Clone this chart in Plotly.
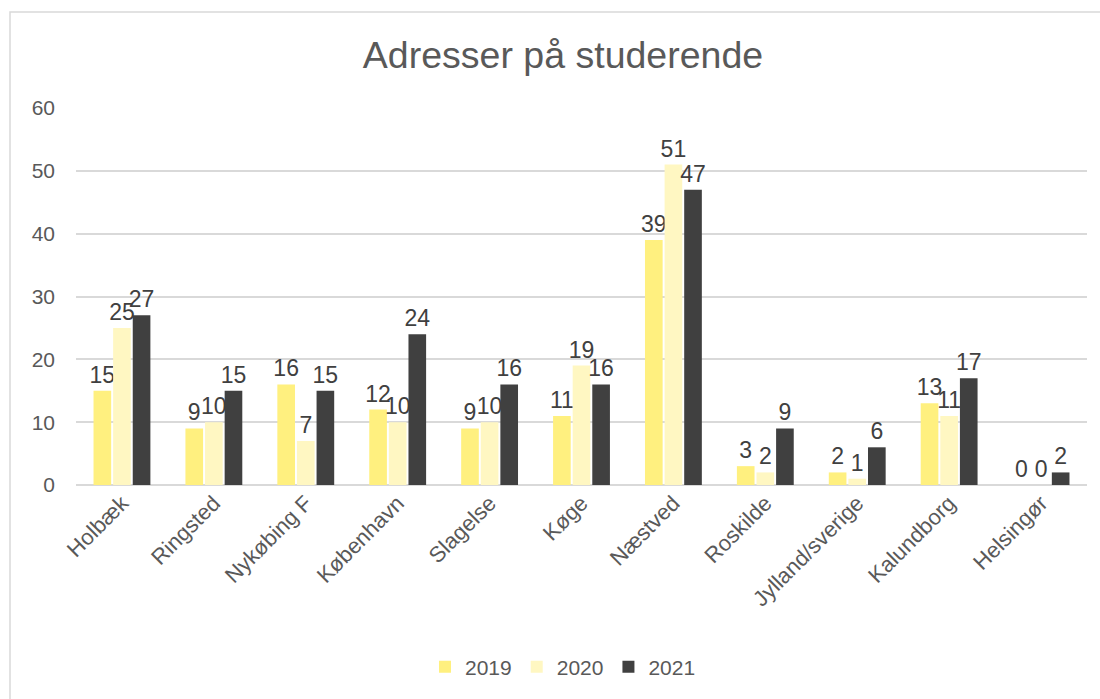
import plotly.graph_objects as go

categories = ["Holbæk", "Ringsted", "Nykøbing F", "København", "Slagelse", "Køge",
              "Næstved", "Roskilde", "Jylland/sverige", "Kalundborg", "Helsingør"]
v2019 = [15, 9, 16, 12, 9, 11, 39, 3, 2, 13, 0]
v2020 = [25, 10, 7, 10, 10, 19, 51, 2, 1, 11, 0]
v2021 = [27, 15, 15, 24, 16, 16, 47, 9, 6, 17, 2]
series_names = ["2019", "2020", "2021"]
colors = ["#FFF07F", "#FFF7C2", "#404040"]

FONT = "Liberation Sans, Arial, sans-serif"
W, H = 1100, 699
ml, mr, mt, mb = 76, 13, 108, 214

fig = go.Figure()
for name, vals, col in zip(series_names, [v2019, v2020, v2021], colors):
    fig.add_trace(go.Bar(
        x=categories, y=vals, name=name, marker_color=col, marker_line_width=0,
        text=[str(v) for v in vals], textposition="outside",
        constraintext="none", cliponaxis=False,
        textfont=dict(family=FONT, size=23, color="#404040"),
    ))

pw = W - ml - mr
ph = H - mt - mb
x0 = (10 - ml) / pw
y1 = 1 + (mt - 12) / ph
fig.add_shape(type="rect", xref="paper", yref="paper",
              x0=x0, x1=1 + (mr + 20) / pw, y0=-(mb + 20) / ph, y1=y1,
              line=dict(color="#D9D9D9", width=1.5), fillcolor="rgba(0,0,0,0)", layer="below")

fig.update_layout(
    width=W, height=H,
    margin=dict(l=ml, r=mr, t=mt, b=mb),
    paper_bgcolor="white", plot_bgcolor="white",
    title=dict(text="Adresser på studerende", x=(563 - ml) / pw, xref="paper", xanchor="center",
               y=1 - 55 / H, yanchor="middle",
               font=dict(family=FONT, size=37.5, color="#595959")),
    barmode="group", bargap=0.36, bargroupgap=0.1,
    font=dict(family=FONT, size=21, color="#595959"),
    xaxis=dict(tickangle=-45, showgrid=False, showline=False, ticks="",
               tickfont=dict(size=22, color="#595959")),
    yaxis=dict(range=[0, 60], dtick=10, showgrid=True, gridcolor="#D9D9D9", gridwidth=1.5,
               zeroline=True, zerolinecolor="#D9D9D9", zerolinewidth=1.5,
               ticks="", tickfont=dict(size=21, color="#595959"), ticklabelstandoff=20),
    legend=dict(orientation="h", x=0.5 + (563 - ml - pw / 2) / pw, xanchor="center",
                y=-(667 - mt - ph) / ph, yanchor="middle",
                font=dict(size=21, color="#595959"), itemwidth=30, traceorder="normal"),
    showlegend=True,
)

fig.write_html("out.html", config={"displayModeBar": False},
               post_script="document.body.style.margin='0';document.body.style.overflow='hidden';")
